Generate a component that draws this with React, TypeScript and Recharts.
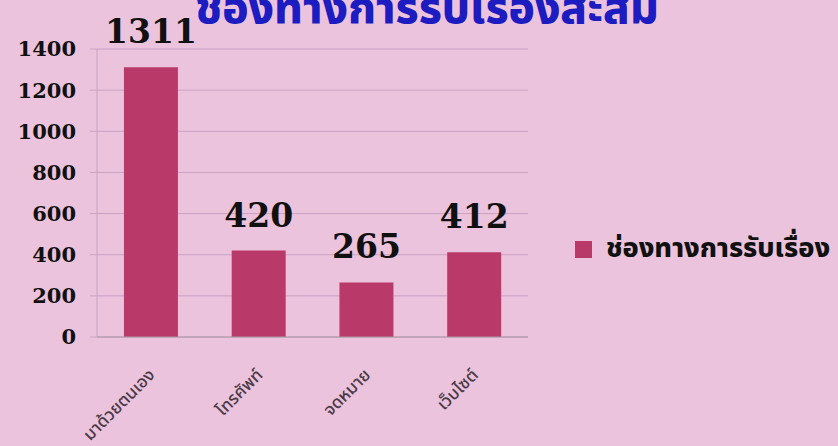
import { BarChart, Bar, XAxis, YAxis, CartesianGrid, Legend, LabelList } from "recharts";

const channels = ["มาด้วยตนเอง", "โทรศัพท์", "จดหมาย", "เว็บไซต์"];
const received = [1311, 420, 265, 412];
const yTicks = [0, 200, 400, 600, 800, 1000, 1200, 1400];
const seriesName = "ช่องทางการรับเรื่อง";
const title = "ช่องทางการรับเรื่องสะสม";

const data = channels.map((channel, i) => ({ channel, count: received[i] }));

const thaiFont = '"Noto Sans Thai", "Noto Sans", Loma, Garuda, "DejaVu Sans", sans-serif';

function XTick({ x, y, payload }: any) {
  return (
    <g transform={`translate(${x + 5},${y + 31})`}>
      <text
        transform="rotate(-45)"
        textAnchor="end"
        fontSize={17}
        fontWeight={500}
        fontFamily={thaiFont}
        fill="#4a3a46"
      >
        {payload.value}
      </text>
    </g>
  );
}

function LegendBox() {
  return (
    <div style={{ display: "flex", alignItems: "center" }}>
      <div style={{ width: 17, height: 17, background: "#b93a69", marginRight: 14 }} />
      <span style={{ fontFamily: thaiFont, fontWeight: 800, fontSize: 27, color: "#111", whiteSpace: "nowrap", lineHeight: "30px" }}>
        {seriesName}
      </span>
    </div>
  );
}

export default function App() {
  return (
    <div
      style={{
        position: "absolute",
        left: 0,
        top: 0,
        width: 838,
        height: 446,
        background: "#ecc3dd",
        overflow: "hidden",
      }}
    >
      <div
        style={{
          position: "absolute",
          top: -20,
          left: 0,
          width: 838,
          textAlign: "center",
          fontFamily: thaiFont,
          fontWeight: 800,
          fontSize: 44,
          color: "#1c1cc0",
          paddingLeft: 8,
          lineHeight: "60px",
        }}
      >
        {title}
      </div>
      <BarChart
        width={838}
        height={446}
        data={data}
        margin={{ top: 49, right: 310, bottom: 0, left: 0 }}
        barCategoryGap="25%"
      >
        <CartesianGrid vertical={false} stroke="#c9a3c2" strokeWidth={1} />
        <XAxis
          dataKey="channel"
          height={109}
          interval={0}
          tick={<XTick />}
          tickLine={false}
          axisLine={{ stroke: "#a898a8" }}
        />
        <YAxis
          width={97}
          domain={[0, 1400]}
          ticks={yTicks}
          interval={0}
          axisLine={{ stroke: "#c9a3c2" }}
          tickLine={{ stroke: "#c9a3c2" }}
          tickSize={7}
          tickMargin={14}
          tick={{
            fill: "#111",
            fontSize: 21,
            fontWeight: 700,
            fontFamily: '"DejaVu Serif", serif',
          }}
        />
        <Legend
          layout="vertical"
          align="center"
          verticalAlign="middle"
          wrapperStyle={{ left: 575, top: 234, width: 263 }}
          content={<LegendBox />}
        />
        <Bar dataKey="count" name={seriesName} fill="#b93a69" isAnimationActive={false}>
          <LabelList
            dataKey="count"
            position="top"
            offset={24}
            fill="#111"
            fontSize={33}
            fontWeight={700}
            fontFamily='"DejaVu Serif", serif'
          />
        </Bar>
      </BarChart>
    </div>
  );
}
